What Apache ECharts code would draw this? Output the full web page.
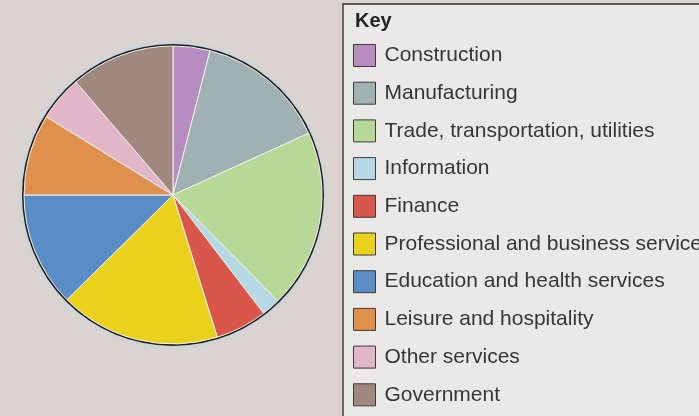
<!DOCTYPE html>
<html>
<head>
<meta charset="utf-8">
<script src="https://cdn.jsdelivr.net/npm/echarts@6/dist/echarts.min.js"></script>
<style>
html,body{margin:0;padding:0;background:#dad3d0;}
#chart{width:699px;height:416px;}
</style>
</head>
<body>
<div id="chart"></div>
<script>
const categories = ['Construction','Manufacturing','Trade, transportation, utilities','Information','Finance','Professional and business services','Education and health services','Leisure and hospitality','Other services','Government'];
const shares = [4.0, 14.2, 19.4, 2.0, 5.6, 17.4, 12.4, 8.8, 4.9, 11.3];
const colors = ['#b78cc0','#9fb1b3','#b8d898','#b4d9e4','#d9564a','#e9d11c','#5a8dc6','#df904c','#e1b6c9','#9f897f'];

const total = shares.reduce((a,b)=>a+b,0);
const chart = echarts.init(document.getElementById('chart'));
const font = '"Liberation Sans", Arial, Helvetica, sans-serif';
const pieCenter = [173, 195];
chart.setOption({
  backgroundColor: '#dad3d0',
  animation: false,
  graphic: [{
    type: 'rect', z: 0,
    shape: {x: 343, y: 4, width: 400, height: 440},
    style: {fill: '#ebe9e8', stroke: '#2a2a2a', lineWidth: 1.3}
  }, {
    type: 'text', z: 5, left: 355, top: 11,
    style: {text: 'Key', font: 'bold 20px ' + font, fill: '#222'}
  }],
  legend: {
    data: categories,
    orient: 'vertical',
    left: 353, top: 44, padding: 0,
    itemWidth: 22, itemHeight: 22, itemGap: 14.7,
    icon: 'rect',
    itemStyle: {borderColor: '#3a3a3a', borderWidth: 1},
    textStyle: {fontFamily: font, fontSize: 21, lineHeight: 22, color: '#363636', padding: [0,0,0,4]},
    selectedMode: false
  },
  series: [{
    type: 'pie', silent: true, z: 1,
    center: pieCenter, radius: [0, 155],
    label: {show: false}, labelLine: {show: false},
    itemStyle: {color: '#d1d4d7'},
    data: [{name: '_halo', value: total}]
  }, {
    type: 'pie', silent: true, z: 1,
    center: pieCenter, radius: [0, 151],
    label: {show: false}, labelLine: {show: false},
    itemStyle: {color: '#1c1c1c'},
    data: [{name: '_outline', value: total}]
  }, {
    type: 'pie', silent: true, z: 2,
    center: pieCenter, radius: [0, 149],
    startAngle: 90, clockwise: true,
    label: {show: false}, labelLine: {show: false},
    itemStyle: {borderColor: '#f4f2ee', borderWidth: 1},
    data: categories.map((c,i)=>({name: c, value: shares[i], itemStyle: {color: colors[i]}}))
  }]
});
</script>
</body>
</html>
